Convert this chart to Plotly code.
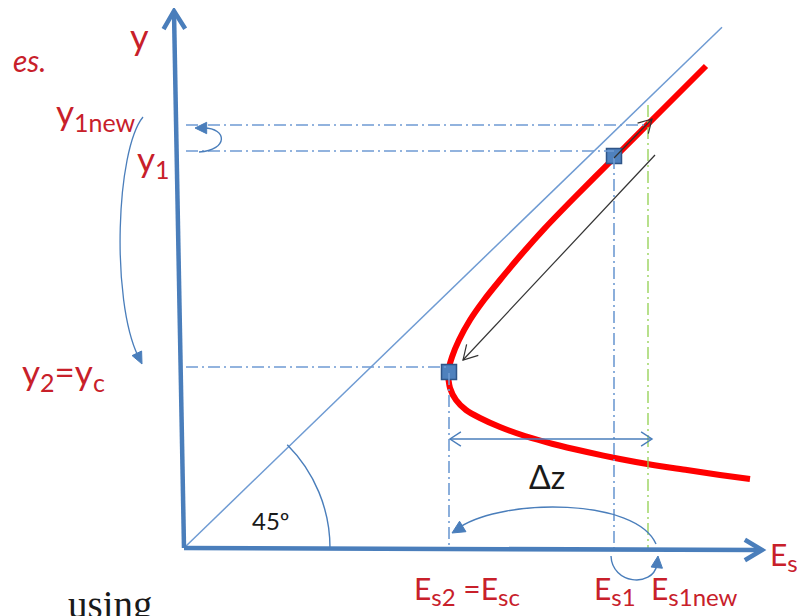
import math
import plotly.graph_objects as go

# ---------------- data (diagram units; origin = axes corner) ----------------
# specific-energy curve E_s(y) (upper branch then lower branch)
curve_E = [5.22, 4.76, 4.30, 3.91, 3.61, 3.36, 3.16, 3.00, 2.86, 2.75, 2.68, 2.64,
           2.66, 2.72, 2.82, 2.96, 3.16, 3.41, 3.69, 4.03, 4.36, 4.69, 5.03, 5.36, 5.66]
curve_y = [4.82, 4.36, 3.90, 3.51, 3.20, 2.92, 2.68, 2.48, 2.28, 2.08, 1.91, 1.75,
           1.60, 1.48, 1.38, 1.30, 1.21, 1.12, 1.04, 0.96, 0.89, 0.83, 0.78, 0.73, 0.69]
# marked points (square markers)
point_E = [2.65, 4.30]
point_y = [1.76, 3.92]
# depths and energies
y1new = 4.23
y1 = 3.97
y2 = 1.81
Es2 = 2.65
Es1 = 4.30
Es1new = 4.64
line45_end = 5.38

BLUE = "#4a7ebb"
BLUE_L = "#6f9bd3"
RED = "#ff0000"
LABEL = "#c8202a"
GREEN = "#92d050"
FONT = "Lato, 'Open Sans', sans-serif"

# page pixel window (the figure div sits 8 px inside the page)
PAGE_OFF = 8
W, H = 805 - PAGE_OFF, 616 - PAGE_OFF


def P(px, py):
    """page pixel -> diagram units (only used for decorative elements)"""
    return (px - 184) / 100.0, (548 - py) / 100.0


X0, Y1 = P(PAGE_OFF, PAGE_OFF)
X1, Y0 = P(805, 616)

shapes = []


def seg(a, b, color, width, dash="solid"):
    shapes.append(dict(type="line", xref="x", yref="y", x0=a[0], y0=a[1], x1=b[0], y1=b[1],
                       line=dict(color=color, width=width, dash=dash), layer="above"))


def head(tip, frm, L, ang, color, width, filled=False):
    dx, dy = frm[0] - tip[0], frm[1] - tip[1]
    n = math.hypot(dx, dy)
    ux, uy = dx / n, dy / n
    pts = []
    for s in (1, -1):
        a = math.radians(ang) * s
        rx = ux * math.cos(a) - uy * math.sin(a)
        ry = ux * math.sin(a) + uy * math.cos(a)
        pts.append((tip[0] + L * rx, tip[1] + L * ry))
    path = f"M {pts[0][0]},{pts[0][1]} L {tip[0]},{tip[1]} L {pts[1][0]},{pts[1][1]}"
    if filled:
        path += " Z"
    shapes.append(dict(type="path", xref="x", yref="y", path=path,
                       line=dict(color=color, width=width),
                       fillcolor=color if filled else "rgba(0,0,0,0)", layer="above"))


def bez(p0, p1, p2, p3, color, width):
    path = f"M {p0[0]},{p0[1]} C {p1[0]},{p1[1]} {p2[0]},{p2[1]} {p3[0]},{p3[1]}"
    shapes.append(dict(type="path", xref="x", yref="y", path=path,
                       line=dict(color=color, width=width), layer="above"))


DD = "12px,4px,2px,4px"

# dash-dot guide lines
seg((0.02, y1new), (Es1new, y1new), BLUE_L, 1.6, DD)
seg((0.02, y1), (Es1, y1), BLUE_L, 1.6, DD)
seg((0.02, y2), (Es2, y2), BLUE_L, 1.6, DD)
seg((Es2, y2 - 0.06), (Es2, 0), BLUE_L, 1.6, DD)
seg((Es1, y1 - 0.06), (Es1, 0), BLUE_L, 1.6, DD)
seg((Es1new, 4.43), (Es1new, 0), GREEN, 1.3, DD)

# 45 degree line
seg((0, 0), (line45_end, line45_end * 0.968), BLUE_L, 1.5)

# 45 degree arc
r = 1.46
k = 4.0 / 3.0 * math.tan(math.pi / 16) * r
c45 = math.cos(math.pi / 4)
bez((r, 0), (r, k), (r * c45 + k * c45, r * c45 - k * c45), (r * c45, r * c45), BLUE, 1.4)

# axes
seg((0, 0), P(174, 12), BLUE, 4.5)
head(P(174, 11), P(175, 60), 0.21, 31, BLUE, 4.5)
seg((0, 0), P(760, 550), BLUE, 4.5)
head(P(762, 550), P(700, 550), 0.20, 31, BLUE, 4.5)

# delta z double arrow
dz_y = P(0, 439)[1]
seg((Es2 + 0.01, dz_y), (Es1new + 0.04, dz_y), BLUE, 1.4)
head((Es2 + 0.01, dz_y), (Es2 + 0.5, dz_y), 0.13, 33, BLUE, 1.4)
head((Es1new + 0.04, dz_y), (Es1new - 0.5, dz_y), 0.13, 33, BLUE, 1.4)

# black arrows
a_from, a_tip = (point_E[1], point_y[1] - 0.02), P(652, 119)
seg(a_from, a_tip, "#333333", 1.2)
head(a_tip, a_from, 0.15, 30, "#333333", 1.2)
b_from, b_tip = P(655, 155), P(463, 360)
seg(b_from, b_tip, "#333333", 1.2)
head(b_tip, b_from, 0.16, 30, "#333333", 1.2)

# curved blue arrows
bez(P(143, 117), P(116, 150), P(111, 300), P(138, 356), BLUE, 1.3)
head(P(142, 364), P(128, 335), 0.13, 24, BLUE, 1, filled=True)

bez(P(199, 152), P(229, 150), P(227, 128), P(204, 128), BLUE, 1.4)
head(P(195, 128), P(215, 128), 0.13, 26, BLUE, 1, filled=True)

bez(P(656, 544), P(636, 498), P(505, 498), P(460, 527), BLUE, 1.4)
head(P(452, 533), P(475, 519), 0.14, 26, BLUE, 1, filled=True)

bez(P(611, 556), P(612, 584), P(652, 588), P(657, 565), BLUE, 1.4)
head(P(658, 556), P(656, 575), 0.13, 26, BLUE, 1, filled=True)

fig = go.Figure()
fig.add_trace(go.Scatter(x=curve_E, y=curve_y, mode="lines",
                         line=dict(color=RED, width=6, shape="spline", smoothing=0.6),
                         hoverinfo="skip"))
fig.add_trace(go.Scatter(x=point_E, y=point_y, mode="markers",
                         marker=dict(symbol="square", size=15, color="#4f81bd",
                                     line=dict(color="#2f5588", width=1.5)),
                         hoverinfo="skip"))

ann = []


def txt(px, py, text, size, color=LABEL, xanchor="center", family=FONT, italic=False):
    x, y = P(px, py)
    if italic:
        text = f"<i>{text}</i>"
    ann.append(dict(x=x, y=y, xref="x", yref="y", text=text, showarrow=False,
                    xanchor=xanchor, yanchor="middle",
                    font=dict(size=size, color=color, family=family)))


def sub(s, px):
    return f"<sub><span style='font-size:{px}px'>{s}</span></sub>"


txt(139, 36, "y", 36)
txt(48, 60, "es.", 30, xanchor="right", italic=True)
txt(54, 113, "y" + sub("1new", 25), 35, xanchor="left")
txt(135, 160, "y" + sub("1", 25), 35, xanchor="left")
txt(20, 373, "y" + sub("2", 25) + "=y" + sub("c", 25), 35, xanchor="left")
txt(768, 556, "E" + sub("s", 24), 30, xanchor="left")
txt(412, 590, "E" + sub("s2", 24) + " =E" + sub("sc", 24), 30, xanchor="left")
txt(592, 590, "E" + sub("s1", 24), 30, xanchor="left")
txt(649, 590, "E" + sub("s1new", 24), 30, xanchor="left")
txt(547, 476, "Δz", 32, color="#1a1a1a")
txt(271, 520, "45º", 24, color="#1a1a1a")
txt(66, 605, "using", 39, color="#1a1a1a", xanchor="left", family="'Liberation Serif', serif")

fig.update_layout(
    width=W, height=H,
    margin=dict(l=0, r=0, t=0, b=0),
    paper_bgcolor="white", plot_bgcolor="white",
    showlegend=False,
    xaxis=dict(range=[X0, X1], visible=False, fixedrange=True),
    yaxis=dict(range=[Y0, Y1], visible=False, fixedrange=True),
    shapes=shapes,
    annotations=ann,
)

fig.write_html("out.html")
